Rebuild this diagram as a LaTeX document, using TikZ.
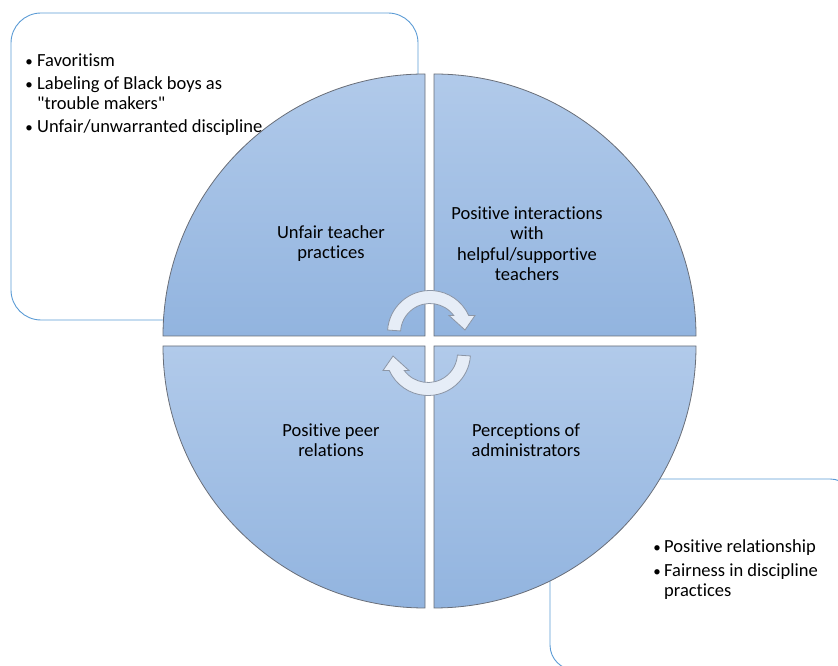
\documentclass[tikz,border=0pt]{standalone}
\usepackage{fontspec}
\setmainfont{Carlito}[Ligatures={NoCommon}]
\definecolor{quadtop}{RGB}{177,202,234}
\definecolor{quadbot}{RGB}{146,180,223}
\definecolor{quadline}{RGB}{105,110,120}
\definecolor{calloutblue}{RGB}{91,155,213}
\definecolor{arrowfill}{RGB}{230,237,247}
\definecolor{arrowline}{RGB}{140,150,166}
\begin{document}
\begin{tikzpicture}[x=1pt,y=1pt,
  quad/.style={draw=quadline, line width=0.8pt, top color=quadtop, bottom color=quadbot},
  callout/.style={draw=calloutblue, line width=0.9pt, rounded corners=30pt},
  lbl/.style={font=\fontsize{18.5}{20.5}\selectfont, align=center, text=black, inner sep=0pt},
  item/.style={font=\fontsize{18.5}{19.5}\selectfont, align=left, inner sep=0pt, anchor=base west},
  bul/.style={font=\fontsize{15}{19.5}\selectfont, inner sep=0pt, anchor=base},
  cyc/.style={draw=arrowline, line width=0.8pt, fill=arrowfill}]
\useasboundingbox (0,0) rectangle (838,666);

% callout frames behind the circle
\draw[callout] (11,346) rectangle (418,653);
\begin{scope}
  \clip (0,0) rectangle (838,666);
  \draw[callout, rounded corners=25pt] (550,-4) rectangle (855,187);
\end{scope}

% the four quadrants
\coordinate (tl) at (425,330);
\coordinate (tr) at (434,330);
\coordinate (bl) at (425,320);
\coordinate (br) at (434,320);
\path[quad] (tl) -- ++(-262,0) arc[start angle=180, end angle=90, radius=262] -- cycle;
\path[quad] (tr) -- ++(0,262) arc[start angle=90, end angle=0, radius=262] -- cycle;
\path[quad] (bl) -- ++(0,-262) arc[start angle=270, end angle=180, radius=262] -- cycle;
\path[quad] (br) -- ++(262,0) arc[start angle=0, end angle=-90, radius=262] -- cycle;

% circular arrows at the centre (one shape, the second turned half round)
\tikzset{cycarrow/.pic={
  \path[cyc] (176:42.5) arc[start angle=176, end angle=24.3, radius=42.5]
    -- (45,17.5) -- (35,3) -- (19,17.5) -- (36.4:29.5)
    arc[start angle=36.4, end angle=176, radius=29.5] -- cycle;
}}
\pic at (430,333) {cycarrow};
\pic[rotate=180] at (428,313) {cycarrow};

% quadrant labels
\node[lbl] (teach) at (331,422.5) {Unfair teacher\\practices};
\node[lbl] (pos) at (527,422.5) {Positive interactions\\with\\helpful/supportive\\teachers};
\node[lbl] (peer) at (331,226) {Positive peer\\relations};
\node[lbl] (admin) at (526,226) {Perceptions of\\administrators};

% bullet list, upper left
\node[item] (fav) at (37,599) {Favoritism};
\node[bul] (b1) at (29,599) {\textbullet};
\node[item] (lab) at (37,556.5) {Labeling of Black boys as\\\textquotedbl trouble makers\textquotedbl};
\node[bul] (b2) at (29,576) {\textbullet};
\node[item] (unf) at (37,533) {Unfair/unwarranted discipline};
\node[bul] (b3) at (29,533) {\textbullet};

% bullet list, lower right
\node[item] (rel) at (664,113) {Positive relationship};
\node[bul] (b4) at (657,113) {\textbullet};
\node[item] (fair) at (664,69.5) {Fairness in discipline\\practices};
\node[bul] (b5) at (657,89) {\textbullet};
\end{tikzpicture}
\end{document}
